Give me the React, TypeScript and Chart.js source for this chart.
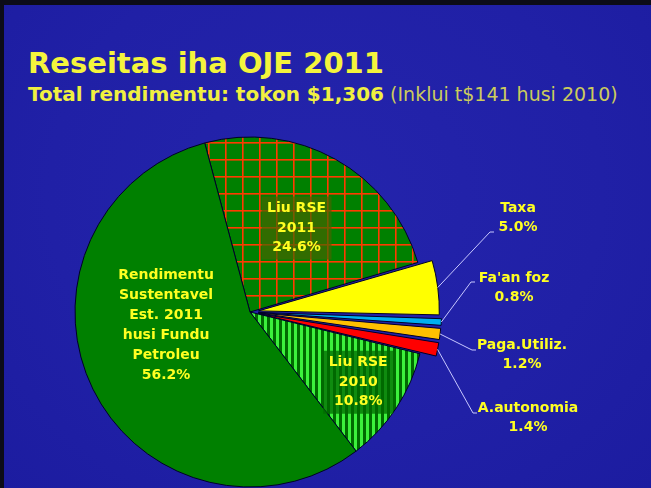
import React, { useEffect, useRef } from "react";
import { Chart, registerables } from "chart.js";

Chart.register(...registerables);

const categories = [
  "Liu RSE 2011",
  "Taxa",
  "Fa'an foz",
  "Paga.Utiliz.",
  "A.autonomia",
  "Liu RSE 2010",
  "Rendimentu Sustentavel Est. 2011 husi Fundu Petroleu",
];
const values = [24.6, 5.0, 0.8, 1.2, 1.4, 10.8, 56.2];
const labelLines: string[][] = [
  ["Liu RSE", "2011"],
  ["Taxa"],
  ["Fa'an foz"],
  ["Paga.Utiliz."],
  ["A.autonomia"],
  ["Liu RSE", "2010"],
  ["Rendimentu", "Sustentavel", "Est. 2011", "husi Fundu", "Petroleu"],
];
const titleText = "Reseitas iha OJE 2011";
const subtitleBold = "Total rendimentu: tokon $1,306";
const subtitleRest = " (Inklui t$141 husi 2010)";

// style / layout (not data)
const sliceOffsets = [0, 34, 34, 34, 34, 0, 0];
const insideLabels: Record<number, { deg: number; r: number; box: boolean; boxColor?: string }> = {
  0: { deg: 29, r: 96, box: true, boxColor: "rgba(70,100,0,0.7)" },
  5: { deg: 123, r: 129, box: true, boxColor: "rgba(0,105,0,0.75)" },
  6: { deg: 261, r: 85, box: false },
};
const outsideLabels: Record<number, { elbow: [number, number]; end: [number, number]; text: [number, number] }> = {
  1: { elbow: [490, 232], end: [494, 232], text: [518, 208] },
  2: { elbow: [471, 282], end: [475, 282], text: [514, 278] },
  3: { elbow: [472, 350], end: [476, 350], text: [522, 345] },
  4: { elbow: [473, 413], end: [477, 413], text: [528, 408] },
};

function gridPattern(): CanvasPattern | string {
  const c = document.createElement("canvas");
  c.width = 17;
  c.height = 17;
  const g = c.getContext("2d")!;
  g.fillStyle = "#008000";
  g.fillRect(0, 0, 17, 17);
  g.fillStyle = "#ff3a00";
  g.fillRect(0, 0, 17, 1.6);
  g.fillRect(0, 0, 1.6, 17);
  const p = g.createPattern(c, "repeat");
  if (!p) return "#008000";
  try {
    p.setTransform(new DOMMatrix().translate(4, 6));
  } catch (e) {}
  return p;
}

function stripePattern(): CanvasPattern | string {
  const c = document.createElement("canvas");
  c.width = 6;
  c.height = 6;
  const g = c.getContext("2d")!;
  g.fillStyle = "#006a00";
  g.fillRect(0, 0, 6, 6);
  g.fillStyle = "#3cf03c";
  g.fillRect(0, 0, 3, 6);
  const p = g.createPattern(c, "repeat");
  return p || "#33cc33";
}

const labelPlugin = {
  id: "sliceLabels",
  afterDatasetsDraw(chart: any) {
    const ctx: CanvasRenderingContext2D = chart.ctx;
    const meta = chart.getDatasetMeta(0);
    ctx.save();
    ctx.font = 'bold 14px "DejaVu Sans", Verdana, sans-serif';
    ctx.textAlign = "center";
    ctx.textBaseline = "middle";
    meta.data.forEach((arc: any, i: number) => {
      const p = arc.getProps(["x", "y", "startAngle", "endAngle", "outerRadius"], true);
      const lines = [...labelLines[i], values[i].toFixed(1) + "%"];
      const lh = i === 6 ? 20 : 19.5;
      if (insideLabels[i]) {
        const L = insideLabels[i];
        const a = ((L.deg - 90) * Math.PI) / 180;
        const cx = p.x + L.r * Math.cos(a);
        const cy = p.y + L.r * Math.sin(a);
        if (L.box) {
          ctx.fillStyle = L.boxColor!;
          ctx.fillRect(cx - 35, cy - 31.5, 70, 63);
        }
        ctx.fillStyle = "#ffff22";
        const top = cy - ((lines.length - 1) * lh) / 2;
        lines.forEach((t, k) => ctx.fillText(t, cx, top + k * lh));
      } else if (outsideLabels[i]) {
        const L = outsideLabels[i];
        const mid = (p.startAngle + p.endAngle) / 2;
        const off = (sliceOffsets[i] || 0) / 4;
        const fix = 1 - Math.sin(Math.min(Math.PI, p.endAngle - p.startAngle));
        const rr = off + p.outerRadius + off * fix;
        const sx = p.x + rr * Math.cos(mid);
        const sy = p.y + rr * Math.sin(mid);
        ctx.strokeStyle = "#c8c8ff";
        ctx.lineWidth = 1;
        ctx.beginPath();
        ctx.moveTo(sx, sy);
        ctx.lineTo(L.elbow[0], L.elbow[1]);
        ctx.lineTo(L.end[0], L.end[1]);
        ctx.stroke();
        ctx.fillStyle = "#ffff22";
        lines.forEach((t, k) => ctx.fillText(t, L.text[0], L.text[1] + k * 19));
      }
    });
    ctx.restore();
  },
};

export default function App() {
  const ref = useRef<HTMLCanvasElement | null>(null);
  useEffect(() => {
    if (!ref.current) return;
    const colors: any[] = [
      gridPattern(),
      "#ffff00",
      "#00b0f0",
      "#ffc000",
      "#ff0000",
      stripePattern(),
      "#008000",
    ];
    const chart = new Chart(ref.current, {
      type: "pie",
      data: {
        labels: categories,
        datasets: [
          {
            data: values,
            backgroundColor: colors,
            borderColor: "#000028",
            borderWidth: 1,
            offset: sliceOffsets,
          } as any,
        ],
      },
      options: {
        animation: false,
        responsive: false,
        events: [],
        radius: 175,
        rotation: -15,
        layout: { padding: { left: 0, right: 151, top: 136, bottom: 0 } },
        plugins: { legend: { display: false }, tooltip: { enabled: false } },
      } as any,
      plugins: [labelPlugin],
    });
    return () => chart.destroy();
  }, []);

  return (
    <div
      style={{
        position: "absolute",
        left: 0,
        top: 0,
        width: 651,
        height: 488,
        overflow: "hidden",
        background: "radial-gradient(ellipse at 50% 40%, #2424ac 0%, #2020a6 60%, #1c1ca0 100%)",
        fontFamily: '"DejaVu Sans", Verdana, sans-serif',
      }}
    >
      <div style={{ position: "absolute", left: 0, top: 0, width: 651, height: 5, background: "#0c0c18" }} />
      <div style={{ position: "absolute", left: 0, top: 0, width: 4, height: 488, background: "#0c0c18" }} />
      <div
        style={{
          position: "absolute",
          left: 28,
          top: 49,
          fontSize: 29,
          lineHeight: "29px",
          fontWeight: "bold",
          color: "#f4f43c",
          whiteSpace: "nowrap",
        }}
      >
        {titleText}
      </div>
      <div
        style={{
          position: "absolute",
          left: 28,
          top: 84,
          fontSize: 20,
          lineHeight: "20px",
          whiteSpace: "nowrap",
        }}
      >
        <span style={{ fontWeight: "bold", color: "#f0f040" }}>{subtitleBold}</span>
        <span style={{ color: "#cccc5c", fontSize: 19 }}>{subtitleRest}</span>
      </div>
      <canvas ref={ref} width={651} height={488} style={{ position: "absolute", left: 0, top: 0 }} />
    </div>
  );
}
